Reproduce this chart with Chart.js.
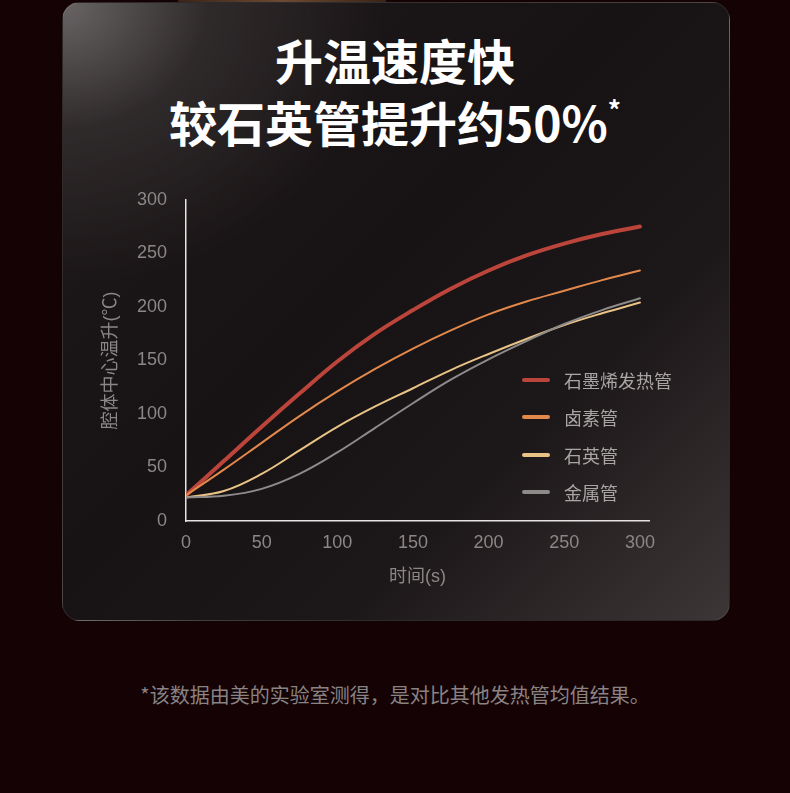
<!DOCTYPE html>
<html>
<head>
<meta charset="utf-8">
<script src="https://cdn.jsdelivr.net/npm/chart.js@4/dist/chart.umd.min.js"></script>
<style>
    body {
        margin: 0;
        width: 790px;
        height: 793px;
        background: #140204;
        position: relative;
        overflow: hidden;
        font-family: "Liberation Sans", "Noto Sans CJK SC", sans-serif;
    }
    .top-strip {
        position: absolute;
        left: 178px;
        top: 0;
        width: 208px;
        height: 3px;
        background: linear-gradient(90deg, #3a2418, #6b4a32, #3a2418);
    }
    .card {
        position: absolute;
        left: 62px;
        top: 2px;
        width: 666px;
        height: 617px;
        border-radius: 18px;
        border: 1px solid rgba(255, 255, 255, 0.09);
        background:
            radial-gradient(ellipse 320px 280px at 0% 0%, rgba(130, 126, 126, 0.75) 0%, rgba(70, 65, 65, 0.45) 45%, rgba(0, 0, 0, 0) 100%),
            linear-gradient(135deg, #1e191a 0%, #171213 45%, #1c1718 70%, #3c3637 100%);
    }
    .title {
        position: absolute;
        left: 0;
        top: 28px;
        width: 790px;
        text-align: center;
        color: #ffffff;
        font-family: "Noto Sans CJK SC", sans-serif;
        font-weight: bold;
        font-size: 48px;
        line-height: 62px;
    }
    .title sup {
        font-size: 26px;
        vertical-align: 22px;
        line-height: 0;
    }
    .chart-box {
        position: absolute;
        left: 62px;
        top: 170px;
        width: 668px;
        height: 440px;
    }
    .legend-container {
        position: absolute;
        left: 522px;
        top: 361px;
    }
    .legend-label {
        height: 37.5px;
        display: flex;
        align-items: center;
    }
    .legend-color {
        display: inline-block;
        width: 28px;
        height: 4px;
        border-radius: 2px;
        margin-right: 14px;
    }
    .legend-text {
        color: #a9a5a5;
        font-size: 18px;
        font-family: "Noto Sans CJK SC", sans-serif;
    }
    .note {
        position: absolute;
        left: 0;
        top: 681px;
        width: 790px;
        text-align: center;
        color: #8a8383;
        font-size: 20px;
        line-height: 28px;
        font-family: "Noto Sans CJK SC", sans-serif;
    }
</style>
</head>
<body>
<div class="top-strip"></div>
<div class="card"></div>
<div class="title">升温速度快<br>较石英管提升约50%<sup>*</sup></div>
<div class="chart-box"><canvas class="my-chart"></canvas></div>
<div class="legend-container"></div>
<div class="note">*该数据由美的实验室测得，是对比其他发热管均值结果。</div>

<script>
// time axis (s)
const timeSec = [0, 25, 50, 75, 100, 125, 150, 175, 200, 225, 250, 275, 300];

// temperature rise (℃)
const grapheneTube = [24, 56, 88, 119, 149, 175, 197, 217, 234, 248, 259, 268, 275];
const halogenTube = [24, 48, 73, 98, 121, 142, 161, 178, 193, 205, 215, 225, 234];
const quartzTube = [22, 28, 44, 66, 88, 107, 124, 141, 156, 170, 183, 194, 204];
const metalTube = [22, 23.5, 30, 44, 64, 87, 110, 132, 151, 168, 184, 197, 208];

const seriesLabels = ["石墨烯发热管", "卤素管", "石英管", "金属管"];
const seriesColors = ["#bb453b", "#e2884b", "#e9c385", "#8d8a8a"];
const seriesWidths = [4, 2, 2, 2];
const seriesValues = [grapheneTube, halogenTube, quartzTube, metalTube];

const yTicks = [0, 50, 100, 150, 200, 250, 300];

const tickColor = "#8c8787";
const axisColor = "#e6e3e3";
const fontStack = "'Liberation Sans', 'Noto Sans CJK SC', sans-serif";

const datasets = seriesValues.map((values, i) => {
    return {
        label: seriesLabels[i],
        data: values.map((v, j) => ({ x: timeSec[j], y: v })),
        borderColor: seriesColors[i],
        borderWidth: seriesWidths[i],
        pointRadius: 0,
        fill: false,
        tension: 0.4,
        borderCapStyle: "round",
    };
});

// draw in reverse so the graphene line sits on top
datasets.reverse();

const myChart = new Chart(document.querySelector(".my-chart"), {
    type: "line",
    data: {
        datasets: datasets,
    },
    options: {
        responsive: true,
        maintainAspectRatio: false,
        animation: false,
        plugins: {
            legend: {
                display: false,
            },
            tooltip: {
                enabled: false,
            },
        },
        layout: {
            padding: {
                top: 27,
                right: 81,
                bottom: 0,
                left: 0,
            },
        },
        scales: {
            x: {
                type: "linear",
                min: 0,
                max: 306,
                grid: {
                    display: false,
                    drawTicks: false,
                },
                border: {
                    display: true,
                    color: axisColor,
                    width: 1.5,
                },
                ticks: {
                    stepSize: 50,
                    includeBounds: false,
                    color: tickColor,
                    padding: 11,
                    maxRotation: 0,
                    font: {
                        size: 18,
                        family: fontStack,
                    },
                },
                title: {
                    display: true,
                    text: "时间(s)",
                    color: tickColor,
                    padding: { top: 0, bottom: 22 },
                    font: {
                        size: 18,
                        family: fontStack,
                    },
                },
                afterFit: (scale) => {
                    scale.height = 89;
                },
            },
            y: {
                min: 0,
                max: 300,
                grid: {
                    display: false,
                    drawTicks: false,
                },
                border: {
                    display: true,
                    color: axisColor,
                    width: 1.5,
                },
                afterBuildTicks: (scale) => {
                    scale.ticks = yTicks.map((v) => ({ value: v }));
                },
                ticks: {
                    color: tickColor,
                    padding: 19,
                    font: {
                        size: 18,
                        family: fontStack,
                    },
                },
                title: {
                    display: true,
                    text: "腔体中心温升(℃)",
                    color: tickColor,
                    padding: { top: 38, bottom: 0 },
                    font: {
                        size: 18,
                        family: fontStack,
                    },
                },
                afterFit: (scale) => {
                    scale.width = 124;
                },
            },
        },
    },
});

// legend built from the same arrays
function generateLegend() {
    const legendContainer = document.querySelector(".legend-container");
    const legendLabels = seriesLabels.map((label, index) => {
        return `<div class="legend-label">
                    <span class="legend-color" style="background-color: ${seriesColors[index]}"></span>
                    <span class="legend-text">${label}</span>
                </div>`;
    });
    legendContainer.innerHTML = legendLabels.join("");
}

generateLegend();
</script>
</body>
</html>
